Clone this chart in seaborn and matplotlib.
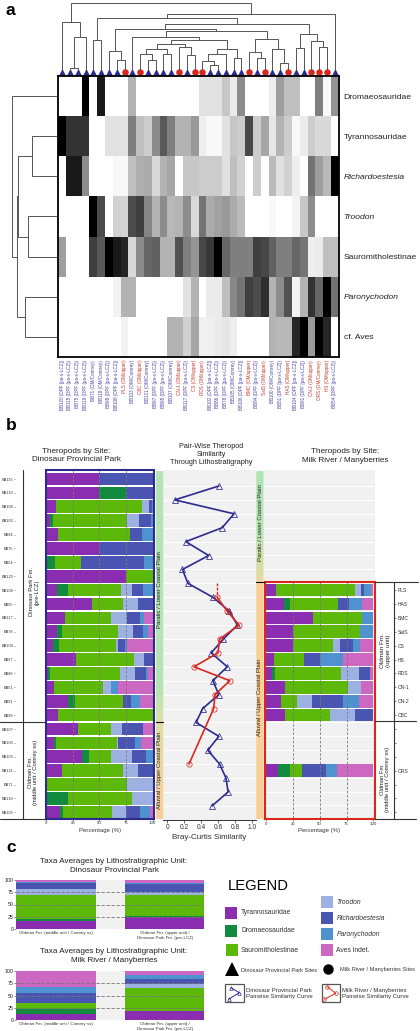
import numpy as np
import pandas as pd
import matplotlib.pyplot as plt
import seaborn as sns
from matplotlib.colors import LinearSegmentedColormap
from matplotlib.patches import FancyBboxPatch, Rectangle

# Data
heat_rows = ['Dromaeosauridae', 'Tyrannosauridae', 'Richardoestesia', 'Troodon',
             'Sauromitholestinae', 'Paronychodon', 'cf. Aves']
dpf = 'DPF [pa-s-LCZ]'
heat_cols = [f'BB120 ({dpf})', f'BB115 ({dpf})', f'BB75 ({dpf})', f'BB119 ({dpf})', 'BB71 (OM/Comrey)',
             'BB118 (OM/Comrey)', f'BB98 ({dpf})', f'BB108 ({dpf})', 'PLS (OM/upper)', 'BB103 (OM/Comrey)',
             'CBC (OM/upper)', 'BB121 (OM/Comrey)', f'BB97 ({dpf})', f'BB95 ({dpf})', 'BB107 (OM/Comrey)',
             'CN-1 (OM/upper)', f'BB117 ({dpf})', 'CS (OM/upper)', 'RDS (OM/upper)', f'BB102 ({dpf})',
             f'BB86 ({dpf})', f'BB78 ({dpf})', 'BB105 (OM/Comrey)', f'BB106 ({dpf})', 'BMC (OM/upper)',
             f'BB94 ({dpf})', 'SalS (OM/upper)', 'BB100 (OM/Comrey)', f'BB51 ({dpf})', 'HAS (OM/upper)',
             f'BB104 ({dpf})', f'BB91 ({dpf})', 'CN-2 (OM/upper)', 'ORS (OM/Comrey)', 'HS (OM/upper)',
             f'BB54 ({dpf})']

heat_drom = [0, 0, 0, 1, 0, .9, 0, 0, 0, .3, 0, 0, 0, 0, 0, 0, 0, 0,
             .12, .12, .12, .22, .08, .45, 0, 0, 0, .07, .38, .25, .25, 0, 0, .5, .03, .42]
heat_tyr = [1, .8, .8, .8, 0, 0, .12, .12, .12, .5, .25, .2, .45, .65, .5, .3, .3, .4,
            .07, .03, .03, .12, .22, .2, .72, .2, .35, .1, .3, .2, .03, .08, .2, .15, .15, 0]
heat_rich = [0, .9, .9, .45, 0, 0, 0, .03, .03, .25, .32, .33, .15, .3, .35, 0, .22, .22,
             .2, .2, .2, .12, .25, .18, 0, .2, 0, .27, .12, .18, .07, 0, .55, .38, .28, 1]
heat_trood = [0, 0, 0, 0, 1, .7, 0, .18, .17, .7, .75, .48, .3, .45, .28, .3, .45, .15,
              .55, .33, .37, .4, .33, .27, 0, 0, 0, .03, 0, 0, .05, .22, .45, 0, 0, 0]
heat_saur = [.38, 0, 0, 0, .75, .65, 1, .9, .85, .15, .45, .6, .62, .3, .3, .68, .5, .42,
             .72, .78, 1, .6, .5, .5, .5, .75, .72, .62, .5, .5, .6, .55, .07, .08, .25, .25]
heat_paro = [0, 0, 0, 0, 0, 0, 0, .05, .3, .3, 0, 0, 0, 0, 0, 0, .12, .3,
             0, .08, .08, .25, .47, .55, .75, .7, .82, .3, .45, .68, .05, .3, .8, .6, 1, .55]
heat_aves = [0, 0, 0, 0, 0, 0, 0, 0, .05, 0, 0, 0, 0, 0, .3, .3, .18, .35,
             .06, .06, .08, .1, .07, 0, 0, 0, 0, .3, .28, .28, .85, 1, .4, 1, .85, 0]

# dendrograms as nested (left, right, height), leaves are row / column numbers
c_10_14 = ((10, (11, 12, .144), .233), (13, 14, .238), .312)
c_15_17 = (15, (16, 17, .228), .337)
c_18_21 = ((18, (19, 20, .074), .134), 21, .233)
c_18_23 = (c_18_21, (22, 23, .178), .317)
c_9_23 = (9, ((c_10_14, c_15_17, .381), c_18_23, .441), .485)
c_24_29 = ((24, (25, 26, .173), .272), (27, (28, 29, .109), .307), .455)
c_6_29 = ((6, (7, 8, .144), .287), (c_9_23, c_24_29, .574), .614)
c_30_34 = ((30, 31, .332), (32, (33, 34, .337), .436), .535)
c_4_35 = (((4, 5, .446), (c_6_29, c_30_34, .688), .767), 35, .837)
top_tree = ((0, ((1, 2, .025), 3, .495), .713), c_4_35, 1.0)
left_tree = (0, (((1, 2, .569), (3, 4, .644), .867), (5, 6, .718), .902), 1.0)

taxa = ['Tyrannosauridae', 'Dromaeosauridae', 'Sauromitholestinae', 'Troodon',
        'Richardoestesia', 'Paronychodon', 'Aves indet.']
taxa_colors = ['#8b2db1', '#128a40', '#5cb90a', '#9cb0e2', '#4a55b2', '#4f92d0', '#cc68c2']

left_sites = ['BB115', 'BB119', 'BB108', 'BB102', 'BB94', 'BB75', 'BB54', 'BB120', 'BB106', 'BB95',
              'BB117', 'BB78', 'BB104', 'BB97', 'BB86', 'BB51', 'BB91', 'BB98', 'BB107', 'BB100',
              'BB103', 'BB121', 'BB71', 'BB118', 'BB105']
left_pct = [[50, 0, 0, 0, 50, 0, 0], [50, 25, 0, 0, 25, 0, 0], [9, 0, 81, 6.5, 3, .5, 0],
            [3.5, 2.5, 70, 11.5, 10.5, 2.5, 0], [11, 0, 67.7, 0, 11, 10.3, 0], [50, 0, 0, 0, 50, 0, 0],
            [0, 8, 25, 0, 59, 8, 0], [75, 0, 25, 0, 0, 0, 0], [10.5, 10, 50, 10, 10, 9.5, 0],
            [43, 0, 29, 14.5, 13.5, 0, 0], [18, 0, 42.6, 15.7, 11.6, 3.8, 8.3],
            [9.7, 4.7, 53, 14, 9.7, 4.4, 4.4], [6, 6, 53.6, 1.6, 6.3, 1.9, 24.6],
            [27.6, 0, 54.9, 9, 8.5, 0, 0], [2, 2, 65, 14, 11, 2, 4], [7, 0, 46.7, 7, 0, 6.6, 32.7],
            [20, 7.5, 45, 0, 7.5, 7.8, 12.2], [11, 0, 89, 0, 0, 0, 0], [30, 0, 30.7, 10, 20, 0, 9.3],
            [7.5, 1.5, 57, 1.5, 16.3, 5.6, 10.5], [33.5, 6.6, 20.4, 20, 13.5, 6, 0],
            [14.4, 0, 57.7, 14.4, 13.5, 0, 0], [.6, 0, 75, 24.4, 0, 0, 0], [0, 20.4, 60.2, 19.4, 0, 0, 0],
            [12.5, 2.8, 46.7, 12.5, 13.8, 9, 2.7]]

right_sites = ['PLS', 'HAS', 'BMC', 'SalS', 'CS', 'HS', 'RDS', 'CN-1', 'CN-2', 'CBC', 'ORS']
right_rows = [8, 9, 10, 11, 12, 13, 14, 15, 16, 17, 21]
right_pct = [[9.2, 0, 73.5, 5.8, 3, 5.8, 2.7], [17, 5.2, 44.6, 0, 10.8, 11.4, 11],
             [44.3, 0, 45, 0, 0, 10.7, 0], [25, 0, 62.5, 0, 0, 12.5, 0], [25, 0, 37.5, 6.5, 12.3, 6.5, 12.2],
             [7.4, 0, 28.3, 0, 14.5, 21.8, 28], [5.8, 3, 60.6, 17.5, 10, 0, 3.1], [17.8, 0, 58.8, 12, 0, 0, 11.4],
             [14.5, 0, 14.5, 14.2, 28.6, 14.5, 13.7], [17.8, 0, 41.5, 23.4, 17.3, 0, 0],
             [11.4, 11.2, 11, 0, 22, 11, 33.4]]

blue_sim = [.61, .09, .79, .65, .22, .49, .18, .245, .54, .735, .83, .665,
            .52, .71, .54, .61, .42, .34, .61, .48, .62, .695, .72, .53]
red_sim = [.59, .71, .85, .62, .60, .316, .74, .565, .55, .257]
red_rows = [8, 9, 10, 11, 12, 13, 14, 15, 16, 20]

unit_labels_dpf = ['Oldman Fm. (middle unit / Comrey ss)', 'Oldman Fm. (upper unit) /\nDinosaur Park Fm. (pre-LCZ)']
unit_pct_dpf = [[16, 4, 48.5, 13, 13, 1.5, 4], [23.5, 3, 43.5, 4.5, 17.5, 1.5, 6.5]]
unit_pct_mr = [[12, 11, 11, 0, 22, 11, 33], [18, 0, 48, 8, 9.5, 7.5, 9]]

BLUE = '#2e2a8e'
RED = '#d8271d'
GREY = '#f1f1f1'
W, H = 420, 1031

sns.set_style('white')
plt.rcParams['font.family'] = ['Liberation Sans', 'DejaVu Sans']
fig = plt.figure(figsize=(4.2, 10.31), dpi=100)


def px_axes(x0, y0, x1, y1):
    return fig.add_axes([x0 / W, 1 - y1 / H, (x1 - x0) / W, (y1 - y0) / H])


def draw_tree(ax, node, vertical=True):
    # returns (leaf position, height) of a node and draws its bracket
    if not isinstance(node, tuple):
        return node + .5, 0
    p1, h1 = draw_tree(ax, node[0], vertical)
    p2, h2 = draw_tree(ax, node[1], vertical)
    p = [p1, p1, p2, p2]
    h = [h1, node[2], node[2], h2]
    if vertical:
        ax.plot(p, h, color='#555555', lw=.7)
    else:
        ax.plot(h, p, color='#555555', lw=.7)
    return (p1 + p2) / 2, node[2]


def stack_rows(ax, rows, pct):
    cum = np.cumsum(np.array(pct), axis=1)
    for i in reversed(range(len(taxa))):
        sns.barplot(x=cum[:, i], y=rows, orient='y', native_scale=True, color=taxa_colors[i],
                    width=.91, saturation=1, linewidth=0, ax=ax)


# a: heatmap with dendrograms
heat = pd.DataFrame([heat_drom, heat_tyr, heat_rich, heat_trood, heat_saur, heat_paro, heat_aves],
                    index=heat_rows, columns=heat_cols)
ax = px_axes(58.3, 76, 338.7, 357)
sns.heatmap(heat, cmap='gray_r', vmin=0, vmax=1, cbar=False, ax=ax, xticklabels=True, yticklabels=True)
for s in ax.spines.values():
    s.set_visible(True)
    s.set_linewidth(1.3)
    s.set_color('black')
ax.yaxis.tick_right()
ax.tick_params(axis='y', length=0, labelsize=6.1, pad=3.5, rotation=0, colors='#222222')
ax.tick_params(axis='x', length=0, labelsize=3.3, pad=2, rotation=90)
for lab in ax.get_xticklabels():
    lab.set_color('#c8362c' if 'OM/upper' in lab.get_text() or 'ORS' in lab.get_text() else '#4a46a8')
for lab in ax.get_yticklabels():
    if lab.get_text() in ('Richardoestesia', 'Troodon', 'Paronychodon'):
        lab.set_style('italic')
is_red = np.array(['upper' in c or 'ORS' in c for c in heat_cols])
col_pos = np.arange(len(heat_cols)) + .5
sns.scatterplot(x=col_pos[~is_red], y=-.1, marker='^', s=26, color=BLUE, linewidth=0, ax=ax, clip_on=False)
sns.scatterplot(x=col_pos[is_red], y=-.1, marker='o', s=22, color=RED, linewidth=0, ax=ax, clip_on=False)
ax.set_xlim(0, 36)
ax.set_ylim(7, 0)

ax = px_axes(58.3, 2.7, 338.7, 70)
draw_tree(ax, top_tree)
ax.set_xlim(0, 36)
ax.set_ylim(0, 1)
ax.axis('off')

ax = px_axes(12.3, 76, 57.3, 357)
draw_tree(ax, left_tree, vertical=False)
ax.set_xlim(1, 0)
ax.set_ylim(7, 0)
ax.axis('off')


# b: theropods by site, row numbers shared by the three panels
row_lim = (24.48, -.65)
tick_font = 3.2

ax = px_axes(45.5, 470, 153.8, 819)
stack_rows(ax, np.arange(len(left_sites)), left_pct)
ax.set_xlim(-.66, 101)
ax.set_ylim(*row_lim)
ax.set_yticks(range(len(left_sites)), left_sites)
ax.set_xticks([0, 25, 50, 75, 100], ['0', '25', '50', '75', '100'])
ax.vlines([25, 50, 75], *row_lim, color='#777777', lw=.6, ls=(0, (3, 2)))
for s in ['top', 'right', 'bottom']:
    ax.spines[s].set_visible(False)
ax.spines['left'].set_position(('outward', 22))
ax.spines['left'].set_visible(False)
ax.tick_params(axis='both', length=1.2, width=.4, labelsize=tick_font, pad=.6, left=True, bottom=True,
               color='#333333', labelcolor='#333333')
ax.tick_params(axis='y', labelsize=2.8, length=1, pad=.3)
ax.set_ylabel('')
ax.set_xlabel('Percentage (%)', fontsize=4.3, labelpad=1.5, color='#333333')
ax.add_patch(Rectangle((0, 0), 1, 1, transform=ax.transAxes, fill=False, ec=BLUE, lw=1.5, clip_on=False, zorder=6))

ax = px_axes(163, 470, 256, 819.5)
ax.set_facecolor(GREY)
sns.lineplot(x=blue_sim, y=np.arange(len(blue_sim)) + .5, orient='y', sort=False, estimator=None, color=BLUE,
             lw=1.2, marker='^', markersize=4.2, markerfacecolor='none', markeredgecolor=BLUE,
             markeredgewidth=.55, ax=ax, zorder=3)
red_y = np.array(red_rows) + .5
sns.lineplot(x=red_sim[:1] * 2, y=[red_y[0] - 1, red_y[0]], orient='y', sort=False, estimator=None, color=RED,
             lw=1, ls=(0, (2, 1)), ax=ax, zorder=4)
sns.lineplot(x=red_sim, y=red_y, orient='y', sort=False, estimator=None, color=RED,
             lw=1.2, marker='o', markersize=3.8, markerfacecolor='none', markeredgecolor=RED,
             markeredgewidth=.55, ax=ax, zorder=4)
ax.hlines(np.arange(25) + .5, -.05, 1.05, color='white', lw=.8, zorder=1)
ax.set_xlim(-.05, 1.05)
ax.set_ylim(*row_lim)
ax.set_yticks([])
ax.set_xticks([0, .2, .4, .6, .8, 1], ['0', '0.2', '0.4', '0.6', '0.8', '1.0'])
for s in ['top', 'right', 'left']:
    ax.spines[s].set_visible(False)
ax.spines['bottom'].set_linewidth(.7)
ax.spines['bottom'].set_color('#333333')
ax.tick_params(axis='x', length=2, width=.5, labelsize=4.8, pad=1, bottom=True, color='#333333', labelcolor='#333333')
ax.set_ylabel('')
ax.set_xlabel('Bray-Curtis Similarity', fontsize=5.8, labelpad=2.5, color='#333333')

ax = px_axes(264, 470, 375, 819)
ax.set_facecolor(GREY)
ax.hlines(np.arange(25) + .5, -2, 102, color='white', lw=.8, zorder=1)
stack_rows(ax, right_rows, right_pct)
ax.set_xlim(-1.6, 101.4)
ax.set_ylim(*row_lim)
right_ticks = list(range(8, 25))
right_labels = ['PLS', 'HAS', 'BMC', 'SalS', 'CS', 'HS', 'RDS', 'CN-1', 'CN-2', 'CBC', '', '', '', 'ORS', '', '', '']
ax.set_xticks([0, 25, 50, 75, 100], ['0', '25', '50', '75', '100'])
ax.vlines([25, 50, 75], 7.4, row_lim[0], color='#777777', lw=.6, ls=(0, (3, 2)), zorder=5)
for s in ['top', 'left', 'bottom']:
    ax.spines[s].set_visible(False)
ax.yaxis.tick_right()
ax.set_yticks(right_ticks, right_labels)
ax.spines['right'].set_position(('outward', 13.9))
ax.spines['right'].set_bounds(row_lim[0], 7.4)
ax.spines['right'].set_linewidth(.8)
ax.spines['right'].set_color('#333333')
ax.tick_params(axis='both', length=1.5, width=.4, labelsize=tick_font, pad=.8, bottom=True, right=True,
               color='#333333', labelcolor='#333333')
ax.tick_params(axis='y', labelsize=3.6)
ax.set_ylabel('')
ax.set_xlabel('Percentage (%)', fontsize=4.3, labelpad=1.5, color='#333333')
ax.add_patch(Rectangle((-.6, 7.4), 101.6, row_lim[0] - 7.4, fill=False, ec=RED, lw=1.5, clip_on=False, zorder=6))


# c: averages per unit
def unit_panel(y0, y1, labels, pct):
    ax = px_axes(16, y0, 204, y1)
    ax.set_facecolor(GREY)
    cum = np.cumsum(np.array(pct), axis=1)
    for i in reversed(range(len(taxa))):
        sns.barplot(x=labels, y=cum[:, i], color=taxa_colors[i], width=.73, saturation=1, linewidth=0, ax=ax)
    ax.set_xlim(-.367, 1.36)
    ax.set_ylim(0, 100)
    ax.hlines([25, 50, 75], -.367, 1.36, color='#777777', lw=.6, ls=(0, (4, 2)), zorder=5)
    ax.set_yticks([0, 25, 50, 75, 100])
    sns.despine(ax=ax, left=True, bottom=True)
    ax.tick_params(axis='y', length=1.2, width=.4, labelsize=3.8, pad=.5, left=True, color='#333333')
    ax.tick_params(axis='x', length=0, labelsize=3.2, pad=1.5, labelcolor='#333333')
    ax.set_xlabel('')
    ax.set_ylabel('')


unit_panel(880, 929, unit_labels_dpf, unit_pct_dpf)
unit_panel(971, 1020, unit_labels_dpf, unit_pct_mr)

# overlay in pixels for strips, captions and the legend
px = fig.add_axes([0, 0, 1, 1], facecolor='none')
strip_cmap_1 = LinearSegmentedColormap.from_list('s1', [(0, '#b2e4b4'), (.62, '#b6e4b2'), (.72, '#dddfa6'), (.72, '#e0dda4'), (1, '#fbcf97')])
strip_cmap_2 = LinearSegmentedColormap.from_list('s2', [(0, '#b2e4b4'), (.17, '#b6e4b2'), (.3, '#e2dca2'), (.33, '#f8cf98'), (1, '#fbcf97')])
grad = np.linspace(0, 1, 256).reshape(-1, 1)
for (x0, x1), cm in [((155.8, 163.2), strip_cmap_1), ((256.2, 263.6), strip_cmap_2)]:
    im = px.imshow(grad, extent=[x0, x1, 819, 471], cmap=cm, aspect='auto', zorder=1)
    clip = FancyBboxPatch((x0 + 1, 472), x1 - x0 - 2, 346, boxstyle='round,pad=1', fc='none', ec='none',
                          transform=px.transData)
    px.add_patch(clip)
    im.set_clip_path(clip)
px.set_xlim(0, W)
px.set_ylim(H, 0)
px.axis('off')


def txt(x, y, s, size, ha='center', color='#222222', **kw):
    px.text(x, y, s, fontsize=size, ha=ha, va='center', color=color, **kw)


for s, x, y in [('a', 10.5, 10.5), ('b', 11.5, 425), ('c', 11, 848)]:
    txt(x, y, s, 12.5, weight='bold', color='black')

txt(76, 455.5, 'Theropods by Site:\nDinosaur Provincial Park', 5.9, linespacing=1.25)
txt(211, 455, 'Pair-Wise Theropod\nSimilarity\nThrough Lithostratigraphy', 5.2, linespacing=1.2)
txt(345, 456, 'Theropods by Site:\nMilk River / Manyberries', 5.9, linespacing=1.25)
txt(114, 866, 'Taxa Averages by Lithostratigraphic Unit:\nDinosaur Provincial Park', 5.9, linespacing=1.25)
txt(114, 956, 'Taxa Averages by Lithostratigraphic Unit:\nMilk River / Manyberries', 5.9, linespacing=1.25)

txt(34, 592, 'Dinosaur Park Fm.\n(pre-LCZ)', 4.2, rotation=90, linespacing=1.2)
txt(33, 772, 'Oldman Fm.\n(middle unit / Comrey ss)', 4.2, rotation=90, linespacing=1.2)
txt(385.6, 651, 'Oldman Fm.\n(upper unit)', 4.6, rotation=90, linespacing=1.2)
txt(385, 779, 'Oldman Fm.\n(middle unit / Comrey ss)', 4.2, rotation=90, linespacing=1.2)

txt(159.5, 590, 'Paralic / Lower Coastal Plain', 4.3, rotation=90, zorder=3)
txt(159.5, 770, 'Alluvial / Upper Coastal Plain', 4.3, rotation=90, zorder=3)
txt(260, 523, 'Paralic / Lower Coastal Plain', 4.3, rotation=90, zorder=3)
txt(260, 697, 'Alluvial / Upper Coastal Plain', 4.3, rotation=90, zorder=3)

line_kw = dict(color='#333333', lw=.8, zorder=3)
px.plot([22.7, 22.7], [470, 819], **line_kw)
px.plot([0, 45], [721.7, 721.7], **line_kw)
px.plot([0, 45], [819, 819], **line_kw)
px.plot([155.8, 163.2], [721.7, 721.7], color='black', lw=.8, zorder=3)
px.plot([256.2, 264], [582, 582], color='black', lw=.8, zorder=3)
px.plot([375, 418], [581.7, 581.7], **line_kw)
px.plot([375, 416], [721.4, 721.4], **line_kw)
px.plot([375, 416], [819, 819], **line_kw)

# legend
txt(258.5, 886, 'LEGEND', 10.6, color='black')
swatches = [(225.3, 907, 241), (225.3, 925, 241), (226, 944, 241), (321, 896, 336.5), (321, 912, 336.5),
            (321, 928, 336.5), (321, 944, 336.5)]
for (sx, sy, tx), name, col in zip(swatches, taxa, taxa_colors):
    px.add_patch(Rectangle((sx, sy), 12, 12, fc=col, ec='none'))
    italic = name in ('Troodon', 'Richardoestesia', 'Paronychodon')
    txt(tx, sy + 6, name, 4.9, ha='left', color='#333333', style='italic' if italic else 'normal')
px.plot([232], [969], marker='^', ms=10, color='black', mew=0)
txt(241.3, 970, 'Dinosaur Provincial Park Sites', 4.1, ha='left', color='#333333')
px.plot([327.7], [968.5], marker='o', ms=7.5, color='black', mew=0)
txt(340, 970, 'Milk River / Manyberries Sites', 4.1, ha='left', color='#333333')
for x0, col, mk, cx, cy in [(225.3, BLUE, '^', [231, 239.3, 228.5], [987.7, 992.7, 999.3]),
                            (321.7, RED, 'o', [327.3, 335.7, 324.3], [986.7, 993.3, 999.3])]:
    px.add_patch(Rectangle((x0, 984), 18.4, 18.2, fc='white', ec='#555555', lw=.9))
    px.plot(cx, cy, color=col, lw=.7, marker=mk, ms=2.6, mfc='none', mew=.5)
txt(246, 993.5, 'Dinosaur Provincial Park\nPairwise Similarity Curve', 4.3, ha='left', color='#333333', linespacing=1.2)
txt(342, 993.5, 'Milk River / Manyberries\nPairwise Similarity Curve', 4.3, ha='left', color='#333333', linespacing=1.2)

plt.savefig('out.png', dpi=100)
